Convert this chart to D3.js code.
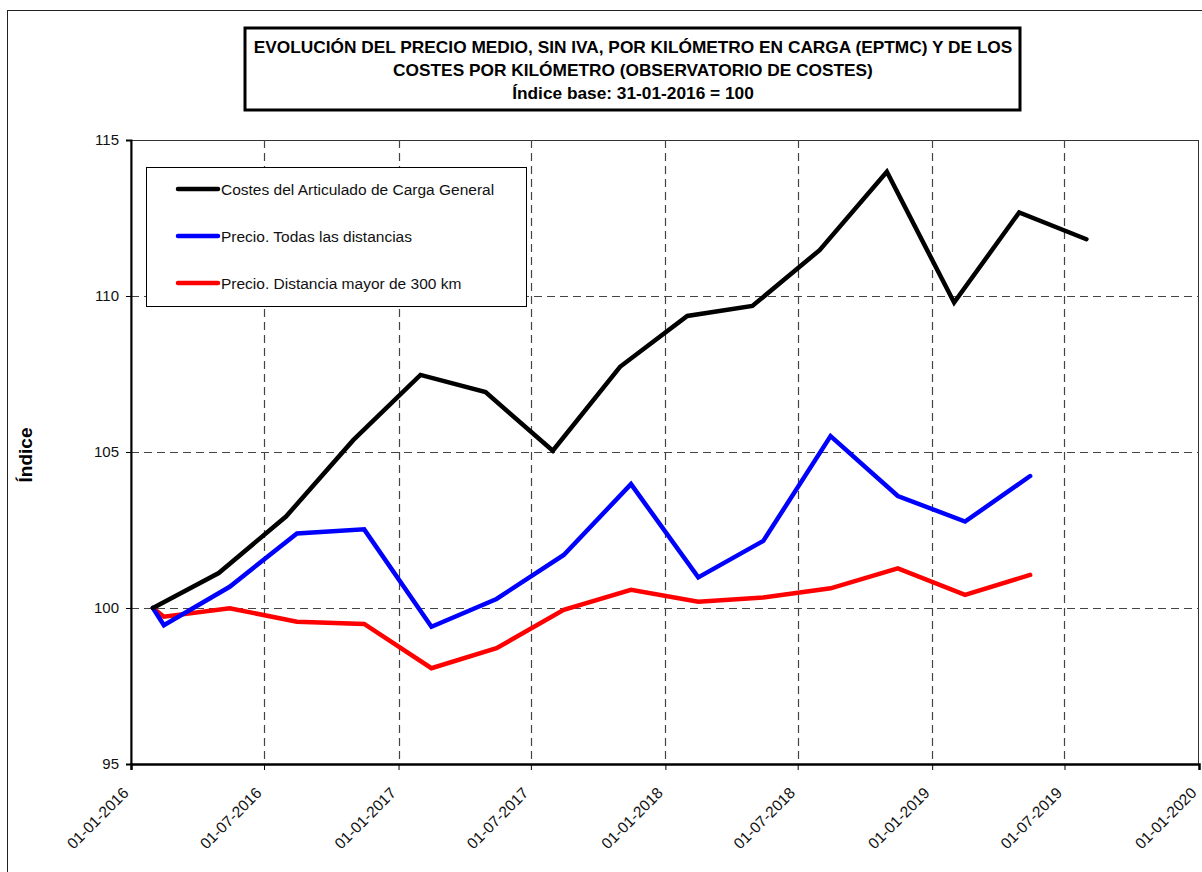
<!DOCTYPE html>
<html><head><meta charset="utf-8">
<script src="https://cdn.jsdelivr.net/npm/d3@7"></script>
<style>
html,body{margin:0;padding:0;background:#fff;}
svg{display:block;font-family:"Liberation Sans",Arial,sans-serif;}
</style></head><body>
<svg id="chart" width="1202" height="872"></svg>
<script>
const titleLines = ["EVOLUCIÓN DEL PRECIO MEDIO, SIN IVA, POR KILÓMETRO EN CARGA (EPTMC) Y DE LOS",
                    "COSTES POR KILÓMETRO (OBSERVATORIO DE COSTES)",
                    "Índice base: 31-01-2016 = 100"];
const yTitle = "Índice";
const seriesNames = ["Costes del Articulado de Carga General","Precio. Todas las distancias","Precio. Distancia mayor de 300 km"];
const seriesColors = ["#000000","#0000ff","#ff0000"];

const costDates = ["2016-01-31","2016-04-30","2016-07-31","2016-10-31","2017-01-31","2017-04-30","2017-07-31","2017-10-31",
                   "2018-01-31","2018-04-30","2018-07-31","2018-10-31","2019-01-31","2019-04-30","2019-07-31"];
const costValues = [100,101.12,102.93,105.38,107.47,106.92,105.04,107.73,109.36,109.68,111.47,113.98,109.79,112.68,111.82];

const priceDates = ["2016-01-31","2016-02-15","2016-05-15","2016-08-15","2016-11-15","2017-02-15","2017-05-15","2017-08-15",
                    "2017-11-15","2018-02-15","2018-05-15","2018-08-15","2018-11-15","2019-02-15","2019-05-15"];
const priceAllValues = [100,99.45,100.68,102.39,102.52,99.40,100.29,101.70,103.97,100.98,102.15,105.51,103.59,102.77,104.23];
const priceLongValues = [100,99.72,99.99,99.56,99.49,98.07,98.71,99.94,100.58,100.20,100.34,100.63,101.27,100.42,101.06];

const xTickDates = ["2016-01-01","2016-07-01","2017-01-01","2017-07-01","2018-01-01","2018-07-01","2019-01-01","2019-07-01","2020-01-01"];
const yTicks = [95,100,105,110,115];

const parse = d3.utcParse("%Y-%m-%d");
const fmt = d3.utcFormat("%d-%m-%Y");
const svg = d3.select("#chart");

const L = 131, R = 1199, T = 140, B = 764;
const x = d3.scaleUtc().domain([parse("2016-01-01"), parse("2020-01-01")]).range([L, R]);
const y = d3.scaleLinear().domain([95,115]).range([B, T]);

// outer border
svg.append("rect").attr("x",7.5).attr("y",10.5).attr("width",1210).attr("height",880)
  .attr("fill","none").attr("stroke","#222").attr("stroke-width",1);

// title box
svg.append("rect").attr("x",245).attr("y",28).attr("width",775).attr("height",82)
  .attr("fill","#fff").attr("stroke","#000").attr("stroke-width",3);
svg.append("g").selectAll("text").data(titleLines).join("text")
  .attr("x",633).attr("y",(d,i)=>53+i*23).attr("text-anchor","middle")
  .attr("font-size","17.3px").attr("font-weight","bold").text(d=>d);

// plot frame
svg.append("rect").attr("x",L).attr("y",T+0.5).attr("width",R-L-0.5).attr("height",B-T)
  .attr("fill","none").attr("stroke","#333").attr("stroke-width",1);

// gridlines
const grid = svg.append("g");
grid.selectAll("line.v").data(xTickDates.slice(1,-1)).join("line")
  .attr("x1",d=>Math.round(x(parse(d)))+0.5).attr("x2",d=>Math.round(x(parse(d)))+0.5)
  .attr("y1",T).attr("y2",B).attr("stroke","#444").attr("stroke-width",1.2).attr("stroke-dasharray","8,5");
grid.selectAll("line.h").data(yTicks.slice(1,-1)).join("line")
  .attr("x1",L).attr("x2",R).attr("y1",d=>Math.round(y(d))+0.5).attr("y2",d=>Math.round(y(d))+0.5)
  .attr("stroke","#444").attr("stroke-width",1.2).attr("stroke-dasharray","8,5");

// axes
const yAxis = d3.axisLeft(y).tickValues(yTicks).tickSize(5).tickPadding(7).tickFormat(d3.format("d"));
const gy = svg.append("g").attr("transform",`translate(${L},0)`).call(yAxis);
gy.select(".domain").attr("stroke","#000").attr("stroke-width",2);
gy.selectAll(".tick line").attr("stroke","#000");
gy.selectAll("text").attr("font-size","15px").attr("font-family","Liberation Sans, Arial, sans-serif").attr("fill","#111");

const xAxis = d3.axisBottom(x).tickValues(xTickDates.map(parse)).tickSize(6).tickFormat(fmt);
const gx = svg.append("g").attr("transform",`translate(0,${B})`).call(xAxis);
gx.select(".domain").attr("stroke","#000").attr("stroke-width",2.5);
gx.selectAll(".tick line").attr("stroke","#000");
gx.selectAll("text").attr("font-size","15.5px").attr("font-family","Liberation Sans, Arial, sans-serif").attr("fill","#111")
  .attr("text-anchor","end").attr("dy",null).attr("y",0)
  .attr("transform","translate(-2,30) rotate(-45)");

// y title
svg.append("text").attr("transform","translate(32,455) rotate(-90)").attr("text-anchor","middle")
  .attr("font-size","19px").attr("font-weight","bold").text(yTitle);

// lines
const series = [
  {dates: costDates, values: costValues},
  {dates: priceDates, values: priceAllValues},
  {dates: priceDates, values: priceLongValues}
];
const line = d3.line().x(d=>x(d[0])).y(d=>y(d[1]));
series.slice().reverse().forEach((s,ri)=>{
  const i = series.length-1-ri;
  svg.append("path").datum(s.dates.map((d,k)=>[parse(d), s.values[k]]))
    .attr("d",line).attr("fill","none").attr("stroke",seriesColors[i])
    .attr("stroke-width",4.5).attr("stroke-linejoin","miter").attr("stroke-linecap","round");
});

// legend
const lg = svg.append("g");
lg.append("rect").attr("x",146.5).attr("y",167.5).attr("width",380).attr("height",139)
  .attr("fill","#fff").attr("stroke","#000").attr("stroke-width",1);
seriesNames.forEach((n,i)=>{
  const yy = 189 + i*47;
  lg.append("line").attr("x1",178).attr("x2",218).attr("y1",yy).attr("y2",yy)
    .attr("stroke",seriesColors[i]).attr("stroke-width",4.5).attr("stroke-linecap","round");
  lg.append("text").attr("x",221).attr("y",yy+6).attr("font-size","15.5px").attr("fill","#111").text(n);
});
</script>
</body></html>
